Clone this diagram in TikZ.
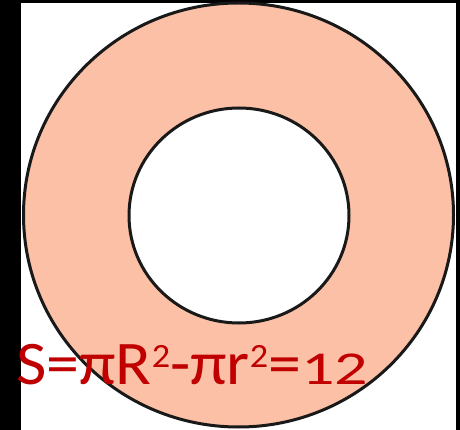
\documentclass[tikz,border=0pt]{standalone}
\usepackage{fontspec}
\setmainfont{Carlito}
\definecolor{ringfill}{RGB}{251,192,165}
\definecolor{txtred}{RGB}{192,0,0}
\newcommand\supTwo{\raisebox{17pt}{\fontsize{34}{34}\selectfont 2}}
\newcommand\oldDigits[1]{\scalebox{1}[0.76]{#1}}
\begin{document}
\begin{tikzpicture}[x=1pt,y=-1pt,
  ringline/.style={draw=black!90,line width=3pt}]
\useasboundingbox (0,0) rectangle (460,430);
\fill[white] (0,0) rectangle (460,430);
\fill[black] (0,0) rectangle (21,430);
\fill[black] (0,0) rectangle (460,3);
\fill[black] (456,0) rectangle (460,430);
\path[ringline,fill=ringfill] (238.5,215) ellipse [x radius=215, y radius=212];
\path[ringline,fill=white] (239,215.5) ellipse [x radius=110, y radius=107.5];
\node[anchor=base west,inner sep=0pt,text=txtred,font=\fontsize{62}{62}\selectfont] (formula) at (16,384) {\scalebox{1.065}[1]{S=πR\supTwo-πr\supTwo=\oldDigits{12}}};
\end{tikzpicture}
\end{document}
